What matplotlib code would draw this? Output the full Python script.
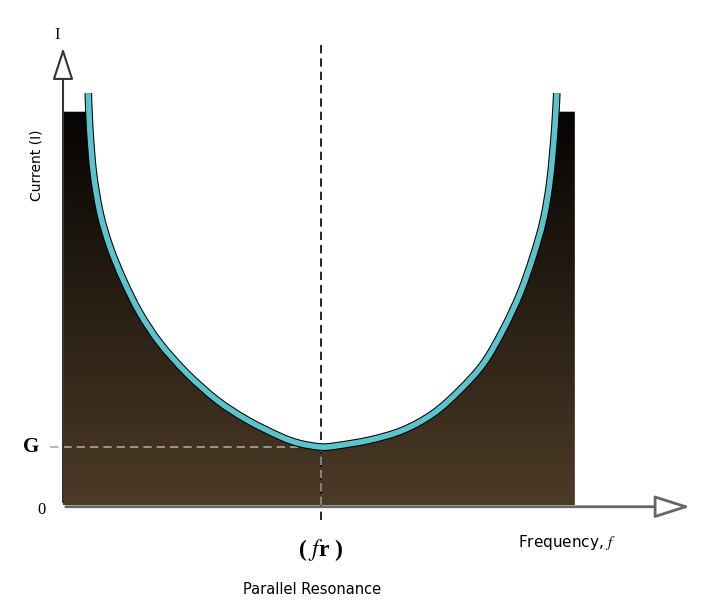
import numpy as np
import matplotlib.pyplot as plt
from matplotlib.patches import Polygon, PathPatch
from matplotlib.path import Path

plt.rcParams["mathtext.fontset"] = "stix"

# current vs frequency around parallel resonance (fr = 5, minimum current G = 1)
freq = [0.49, 0.52, 0.59, 0.72, 0.91, 1.17, 1.49, 1.88, 2.40, 2.98, 3.56, 4.21,
        4.59, 5.00, 5.30, 5.95, 6.59, 7.18, 7.69, 8.15, 8.53, 8.86, 9.11, 9.31,
        9.44, 9.53, 9.57]
current = [7.10, 6.47, 5.72, 5.03, 4.45, 3.88, 3.31, 2.79, 2.27, 1.81, 1.47, 1.18,
           1.06, 1.00, 1.02, 1.12, 1.29, 1.58, 1.98, 2.44, 3.02, 3.65, 4.28, 4.91,
           5.60, 6.47, 7.10]
f_res = 5.0
g_min = 1.0
fill_top = 6.78
fill_right = 9.92


def smooth_path(xs, ys):
    # cubic bezier segments through the points (catmull-rom tangents)
    p = np.column_stack([xs, ys])
    verts = [p[0]]
    codes = [Path.MOVETO]
    for i in range(len(p) - 1):
        p0 = p[i - 1] if i > 0 else p[i]
        p3 = p[i + 2] if i + 2 < len(p) else p[i + 1]
        c1 = p[i] + (p[i + 1] - p0) / 6
        c2 = p[i + 1] - (p3 - p[i]) / 6
        verts += [c1, c2, p[i + 1]]
        codes += [Path.CURVE4] * 3
    return Path(verts, codes)


W, H = 709, 611
fig = plt.figure(figsize=(W / 100, H / 100), dpi=100)
ax = fig.add_axes([63 / W, (H - 505) / H, 630 / W, 460 / H])
ax.set_xlim(0, 12.21)
ax.set_ylim(0, 7.93)
ax.axis("off")

# gradient fill under the curve
f = np.array(freq)
c = np.minimum(np.array(current), fill_top)
verts = [(0, 0), (0, fill_top)] + list(zip(f, c)) + [(fill_right, fill_top), (fill_right, 0)]
clip = Polygon(verts, closed=True, facecolor="none", edgecolor="none")
ax.add_patch(clip)
grad = np.linspace(0, 1, 256).reshape(-1, 1)
top_col = np.array([0.02, 0.015, 0.01])
bot_col = np.array([0.30, 0.23, 0.15])
img = top_col + (bot_col - top_col) * grad[..., None]
im = ax.imshow(img, extent=[0, fill_right, 0, fill_top], origin="upper",
               aspect="auto", zorder=1)
im.set_clip_path(clip)

# dashed guide lines
ax.plot([f_res, f_res], [-0.25, 7.93], color="black", lw=1.2,
        ls=(0, (5, 3)), zorder=2, clip_on=False)
ax.plot([f_res, f_res], [0, g_min], color="#999999", lw=1.2,
        ls=(0, (5, 3)), zorder=2)
ax.plot([-0.25, f_res], [g_min, g_min], color="#a8a8a8", lw=1.2,
        ls=(0, (5, 3)), zorder=2, clip_on=False)

# the response curve
curve = smooth_path(freq, current)
ax.add_patch(PathPatch(curve, fill=False, ec="black", lw=5.5, capstyle="butt",
                       zorder=3, clip_on=False))
ax.add_patch(PathPatch(curve, fill=False, ec="#5bc3cb", lw=4.0, capstyle="butt",
                       zorder=4, clip_on=False))

# axes with hollow arrows
ax.annotate("", xy=(12.21, -0.03), xytext=(0, -0.03),
            arrowprops=dict(arrowstyle="-|>,head_length=2.2,head_width=0.7",
                            fc="white", ec="#666666", lw=2), zorder=5,
            annotation_clip=False)
ax.annotate("", xy=(0, 7.93), xytext=(0, 0),
            arrowprops=dict(arrowstyle="-|>,head_length=2.0,head_width=0.65",
                            fc="white", ec="#333333", lw=1.5), zorder=5,
            annotation_clip=False)

serif = "Liberation Serif"
fig.text(57 / W, 1 - 35 / H, "I", fontsize=12, family=serif, ha="center", va="center")
fig.text(31 / W, 1 - 447 / H, "G", fontsize=15, family=serif, weight="bold",
         ha="center", va="center")
fig.text(42 / W, 1 - 510 / H, "0", fontsize=12, family=serif, ha="center", va="center")
fig.text(37 / W, 1 - 165 / H, "Current (I)", fontsize=10, rotation=90,
         ha="center", va="center")
fig.text(321 / W, 1 - 550 / H, r"( $\mathit{f}$r )", fontsize=17, family=serif,
         weight="bold", ha="center", va="center")
fig.text(567 / W, 1 - 543 / H, r"Frequency, $\mathit{f}$", fontsize=11,
         ha="center", va="center")
fig.text(312 / W, 1 - 590 / H, "Parallel Resonance", fontsize=10.5,
         ha="center", va="center")

fig.savefig("out.png", dpi=100)
